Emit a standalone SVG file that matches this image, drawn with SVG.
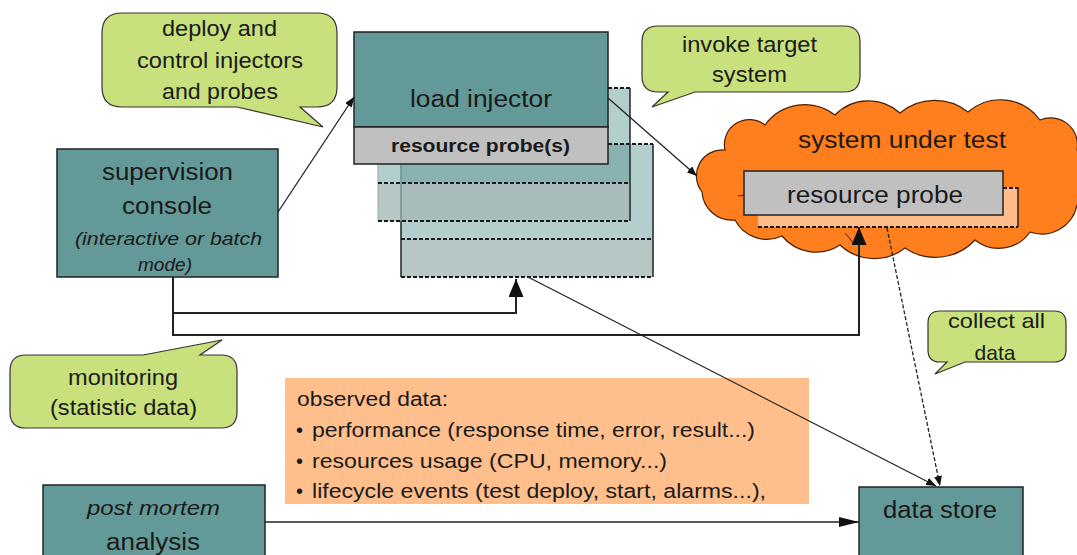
<svg xmlns="http://www.w3.org/2000/svg" width="1077" height="555" viewBox="0 0 1077 555">
<defs>
<style>
.t{font-family:"Liberation Sans",Arial,sans-serif;fill:#1a1a1a;}
.box{fill:#639998;stroke:#222;stroke-width:1.5;}
.bub{fill:#c9e17c;stroke:#333;stroke-width:1.2;}
.dot{stroke:#1a1a1a;stroke-width:2;stroke-dasharray:4 2;fill:none;}
.edge{stroke:#222;stroke-width:1.5;fill:none;}
.con{stroke:#222;stroke-width:1.3;fill:none;}
.con2{stroke:#222;stroke-width:2;fill:none;}
</style>
<marker id="aS" markerUnits="userSpaceOnUse" markerWidth="11" markerHeight="8" refX="10" refY="4" orient="auto"><path d="M0,0 L10,4 L0,8 z" fill="#111"/></marker>
<marker id="aL" markerUnits="userSpaceOnUse" markerWidth="19" markerHeight="16" refX="18" refY="7.5" orient="auto"><path d="M0,0 L18,7.5 L0,15 z" fill="#111"/></marker>
<marker id="aM" markerUnits="userSpaceOnUse" markerWidth="21" markerHeight="11" refX="20" refY="5" orient="auto"><path d="M0,0 L20,5 L0,10 z" fill="#111"/></marker>
</defs>
<rect width="1077" height="555" fill="#fff"/>

<g id="cloud">
<path d="M702,192 A26,26 0 0 1 725,150 A25,25 0 0 1 765,125 A49,49 0 0 1 835,115 A47,47 0 0 1 900,113 A54,54 0 0 1 968,112 A49,49 0 0 1 1040,120 A27,27 0 0 1 1077,150 L1095,150 L1095,205 L1077,205 A36,36 0 0 1 1030,232 A38,38 0 0 1 975,240 A54,54 0 0 1 905,248 A50,50 0 0 1 840,245 A44,44 0 0 1 782,236 A36,36 0 0 1 735,220 A30,30 0 0 1 702,192 Z" fill="#ff7f1e" stroke="#4a2000" stroke-width="1.2"/>
<path d="M738,196 q7,-2 14,0 M845,233 q4,4 8,10" stroke="#4a2000" stroke-width="1" fill="none"/>
<text class="t" x="902" y="148" font-size="23" text-anchor="middle" textLength="208" lengthAdjust="spacingAndGlyphs">system under test</text>
</g>

<g id="probe-sut">
<rect x="758" y="187" width="260" height="40" fill="#ffbb88"/>
<line x1="1018" y1="187" x2="1018" y2="227" class="edge"/>
<line x1="1003" y1="188" x2="1018" y2="188" class="dot"/>
<line x1="758" y1="227" x2="1018" y2="227" class="dot"/>
<rect x="744" y="171" width="259" height="44" fill="#c0c0c0" stroke="#222" stroke-width="1.5"/>
<text class="t" x="875" y="203" font-size="23" text-anchor="middle" textLength="176" lengthAdjust="spacingAndGlyphs">resource probe</text>
</g>

<g id="injector3">
<rect x="401" y="144" width="252" height="95" fill="#b2cecd"/>
<rect x="401" y="239" width="252" height="38" fill="#b6c7c6"/>
</g>
<g id="injector2">
<rect x="378" y="88" width="252" height="95" fill="#b2cecd"/>
<rect x="401" y="144" width="229" height="39" fill="#88b2b0"/>
<rect x="378" y="183" width="23" height="38" fill="#b6c7c6"/>
<rect x="401" y="183" width="229" height="38" fill="#a8bcbb"/>
</g>
<g id="injector-lines">
<line x1="653" y1="144" x2="653" y2="277" class="edge"/>
<line x1="401" y1="221" x2="401" y2="277" class="edge"/>
<line x1="401" y1="160" x2="401" y2="221" stroke="#6f9190" stroke-width="1.5"/>
<line x1="608" y1="144" x2="653" y2="144" class="dot"/>
<line x1="401" y1="239" x2="653" y2="239" class="dot"/>
<line x1="401" y1="277" x2="653" y2="277" class="dot"/>
<line x1="378" y1="160" x2="378" y2="221" stroke="#9fb4b4" stroke-width="1.2"/>
<line x1="630" y1="88" x2="630" y2="221" class="edge"/>
<line x1="608" y1="88" x2="630" y2="88" class="dot"/>
<line x1="378" y1="183" x2="630" y2="183" class="dot"/>
<line x1="378" y1="221" x2="630" y2="221" class="dot"/>
</g>

<g id="load-injector">
<rect x="354" y="32" width="254" height="95" class="box"/>
<rect x="354" y="127" width="254" height="37" fill="#c0c0c0" stroke="#222" stroke-width="1.5"/>
<text class="t" x="481" y="107" font-size="23" text-anchor="middle" textLength="142" lengthAdjust="spacingAndGlyphs">load injector</text>
<text class="t" x="480.5" y="152" font-size="18" font-weight="bold" text-anchor="middle" textLength="179" lengthAdjust="spacingAndGlyphs">resource probe(s)</text>
</g>

<g id="supervision-console">
<rect x="57" y="149" width="221" height="128" class="box"/>
<text class="t" x="167.5" y="180" font-size="23" text-anchor="middle" textLength="131" lengthAdjust="spacingAndGlyphs">supervision</text>
<text class="t" x="167" y="214" font-size="23" text-anchor="middle" textLength="90" lengthAdjust="spacingAndGlyphs">console</text>
<text class="t" x="168.5" y="245" font-size="19" font-style="italic" text-anchor="middle" textLength="187" lengthAdjust="spacingAndGlyphs">(interactive or batch</text>
<text class="t" x="165" y="271" font-size="19" font-style="italic" text-anchor="middle" textLength="54" lengthAdjust="spacingAndGlyphs">mode)</text>
</g>

<g id="post-mortem">
<rect x="43" y="485" width="222" height="80" class="box"/>
<text class="t" x="153.5" y="515" font-size="21" font-style="italic" text-anchor="middle" textLength="133" lengthAdjust="spacingAndGlyphs">post mortem</text>
<text class="t" x="153" y="550" font-size="23" text-anchor="middle" textLength="94" lengthAdjust="spacingAndGlyphs">analysis</text>
</g>

<g id="data-store">
<rect x="859" y="487" width="164" height="80" class="box"/>
<text class="t" x="940" y="518" font-size="23" text-anchor="middle" textLength="114" lengthAdjust="spacingAndGlyphs">data store</text>
</g>

<g id="observed-data">
<rect x="285" y="378" width="524" height="126" fill="#ffbf8c"/>
<text class="t" x="297" y="406" font-size="20" textLength="151" lengthAdjust="spacingAndGlyphs">observed data:</text>
<text class="t" x="296" y="437" font-size="20">•</text>
<text class="t" x="312" y="437" font-size="20" textLength="443" lengthAdjust="spacingAndGlyphs">performance (response time, error, result...)</text>
<text class="t" x="296" y="468" font-size="20">•</text>
<text class="t" x="312" y="468" font-size="20" textLength="355" lengthAdjust="spacingAndGlyphs">resources usage (CPU, memory...)</text>
<text class="t" x="296" y="498" font-size="20">•</text>
<text class="t" x="312" y="498" font-size="20" textLength="454" lengthAdjust="spacingAndGlyphs">lifecycle events (test deploy, start, alarms...),</text>
</g>

<g id="connectors">
<line x1="278" y1="212" x2="354" y2="97" class="con" marker-end="url(#aS)"/>
<line x1="608" y1="98" x2="697" y2="176" class="con" marker-end="url(#aS)"/>
<polyline points="173,277 173,335 859,335 859,227" class="con2" marker-end="url(#aL)"/>
<polyline points="173,313 516,313 516,279" class="con2" marker-end="url(#aL)"/>
<line x1="528" y1="277" x2="936" y2="486" class="con" marker-end="url(#aS)"/>
<line x1="887" y1="228" x2="940" y2="486" class="con" stroke-dasharray="4 2" marker-end="url(#aS)"/>
<line x1="265" y1="522" x2="859" y2="522" class="con" marker-end="url(#aM)"/>
</g>

<g id="callout-deploy">
<path d="M122,13 H317 Q337,13 337,33 V87 Q337,107 317,107 H300 L323,127 L237,107 H122 Q102,107 102,87 V33 Q102,13 122,13 Z" class="bub"/>
<text class="t" x="219.5" y="36" font-size="22" text-anchor="middle" textLength="115" lengthAdjust="spacingAndGlyphs">deploy and</text>
<text class="t" x="220" y="68" font-size="22" text-anchor="middle" textLength="166" lengthAdjust="spacingAndGlyphs">control injectors</text>
<text class="t" x="220" y="99" font-size="22" text-anchor="middle" textLength="116" lengthAdjust="spacingAndGlyphs">and probes</text>
</g>

<g id="callout-invoke">
<path d="M658,26 H844 Q860,26 860,42 V76 Q860,92 844,92 H695 L652,107 L668,92 H658 Q642,92 642,76 V42 Q642,26 658,26 Z" class="bub"/>
<text class="t" x="749.5" y="52" font-size="22" text-anchor="middle" textLength="135" lengthAdjust="spacingAndGlyphs">invoke target</text>
<text class="t" x="749.5" y="82" font-size="22" text-anchor="middle" textLength="75" lengthAdjust="spacingAndGlyphs">system</text>
</g>

<g id="callout-monitoring">
<path d="M26,355 H143 L222,340 L200,355 H221 Q237,355 237,371 V412 Q237,428 221,428 H26 Q10,428 10,412 V371 Q10,355 26,355 Z" class="bub"/>
<text class="t" x="123" y="385" font-size="22" text-anchor="middle" textLength="110" lengthAdjust="spacingAndGlyphs">monitoring</text>
<text class="t" x="123.5" y="415" font-size="22" text-anchor="middle" textLength="147" lengthAdjust="spacingAndGlyphs">(statistic data)</text>
</g>

<g id="callout-collect">
<path d="M940,311 H1054 Q1066,311 1066,323 V350 Q1066,362 1054,362 H965 L935,374 L947,362 H940 Q928,362 928,350 V323 Q928,311 940,311 Z" class="bub"/>
<text class="t" x="996.5" y="328" font-size="21" text-anchor="middle" textLength="97" lengthAdjust="spacingAndGlyphs">collect all</text>
<text class="t" x="995" y="360" font-size="21" text-anchor="middle">data</text>
</g>
</svg>
